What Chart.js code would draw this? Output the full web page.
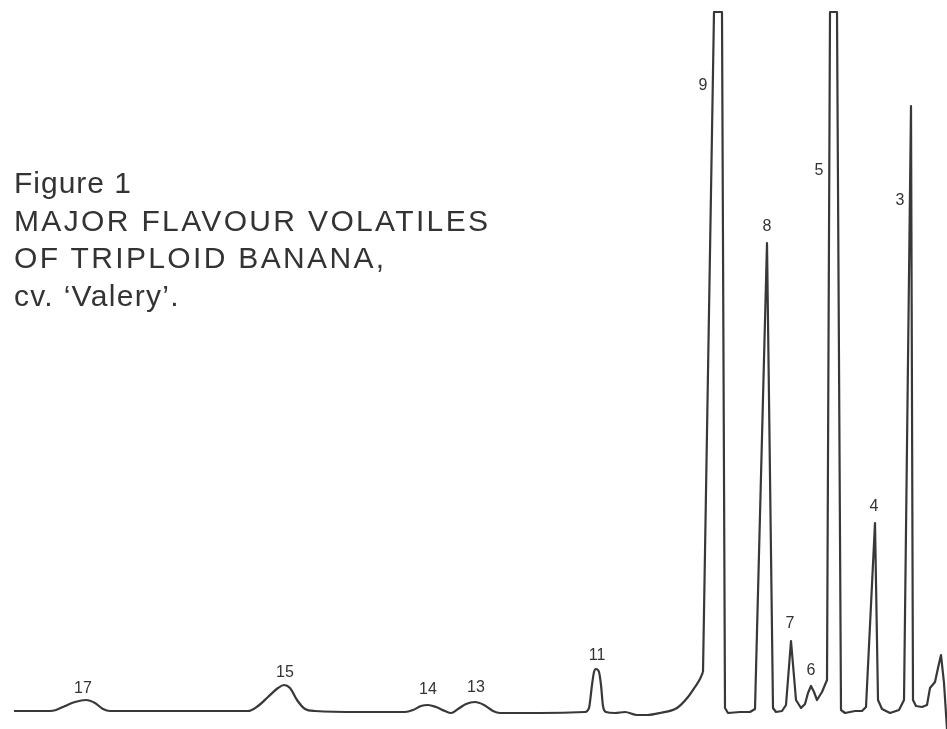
<!DOCTYPE html>
<html lang="en">

<head>
  <meta charset="UTF-8">
  <title>Banana volatiles</title>
</head>

<style>
  body {
    margin: 0;
    background-color: #ffffff;
    overflow: hidden;
  }

  .chartContainer {
    position: relative;
    width: 947px;
    height: 729px;
  }

  .caption {
    position: absolute;
    left: 14px;
    top: 164px;
    font-family: "Liberation Sans", Arial, sans-serif;
    font-size: 30px;
    line-height: 37.5px;
    letter-spacing: 2.35px;
    color: #333333;
  }

  .caption .first {
    letter-spacing: 1px;
  }

  .caption .last {
    letter-spacing: 1.3px;
  }
</style>

<body>
  <script src="https://cdn.jsdelivr.net/npm/chart.js"></script>
  <div class="chartContainer">
    <canvas id="traceChart" width="947" height="729"></canvas>
    <div class="caption"><span class="first">Figure 1</span><br>MAJOR FLAVOUR VOLATILES<br>OF TRIPLOID BANANA,<br><span class="last">cv. ‘Valery’.</span></div>
  </div>

  <script>
    // chromatogram trace
    const retention = [14, 30, 50, 56, 65, 75, 86, 95, 103, 110, 160, 210, 248, 258, 268, 278, 284, 290, 297, 305,
      315, 360, 405, 413, 421, 428, 436, 445, 451, 458, 466, 475, 484, 493, 500, 540, 585, 589, 592, 594,
      596, 599, 601, 603, 606, 615, 625, 637, 647, 660, 677, 688, 695, 700, 703, 714, 722, 725, 728, 740,
      750, 755, 767, 773, 776, 782, 786, 791, 796, 801, 805, 808, 811, 814, 817, 822, 827, 830, 837, 841,
      845, 855, 862, 866, 875, 878, 882, 890, 899, 904, 911, 913, 916, 922, 927, 930, 935, 938, 941, 944, 947];
    const response = [0, 0, 0, 1, 5, 9, 11, 8, 2, 0, 0, 0, 0, 5, 14, 23, 26, 23, 11, 2,
      0, -1, -1, 1, 5, 6, 4, 0, -2, 2, 7, 9, 6, 0, -2, -2, -1, 3, 26, 39,
      42, 39, 26, 5, -1, -2, -1, -4, -4, -2, 3, 14, 24, 32, 39, 699, 699, 3, -2, -1,
      -1, 2, 468, 3, -1, 0, 6, 70, 11, 3, 7, 18, 25, 19, 11, 19, 31, 699, 699, 1,
      -2, 0, 0, 4, 188, 11, 2, -2, 1, 11, 605, 11, 5, 4, 6, 23, 29, 43, 56, 28, -18];

    // peak numbers and where they are written
    const peakNames = ['17', '15', '14', '13', '11', '9', '8', '7', '6', '5', '4', '3'];
    const labelAt = [83, 285, 428, 476, 597, 703, 767, 790, 811, 819, 874, 900];
    const labelHeight = [22, 38, 21, 23, 55, 625, 484, 87, 40, 540, 204, 510];

    // the slow late peaks are drawn smooth, the big fast ones with the pen's straight strokes
    const splitAt = 703;
    const points = retention.map((t, i) => ({ x: t, y: response[i] }));
    const slowPart = points.filter(p => p.x <= splitAt);
    const fastPart = points.filter(p => p.x >= splitAt);

    const peakLabels = {
      id: 'peakLabels',
      afterDatasetsDraw(chart) {
        const ctx = chart.ctx;
        const x = chart.scales.x;
        const y = chart.scales.y;
        ctx.save();
        ctx.font = '16px "Liberation Sans", Arial, sans-serif';
        ctx.fillStyle = '#333333';
        ctx.textAlign = 'center';
        ctx.textBaseline = 'middle';
        peakNames.forEach((name, i) => {
          ctx.fillText(name, x.getPixelForValue(labelAt[i]), y.getPixelForValue(labelHeight[i]));
        });
        ctx.restore();
      }
    };

    function traceLine(data, smooth) {
      return {
        data: data,
        borderColor: '#383838',
        borderWidth: 2.2,
        pointRadius: 0,
        tension: 0,
        cubicInterpolationMode: smooth ? 'monotone' : 'default',
        borderJoinStyle: 'round',
        fill: false
      };
    }

    new Chart(document.getElementById('traceChart'), {
      type: 'line',
      data: {
        datasets: [traceLine(slowPart, true), traceLine(fastPart, false)]
      },
      options: {
        responsive: false,
        animation: false,
        layout: { padding: 0 },
        scales: {
          x: { type: 'linear', min: 0, max: 947, display: false },
          y: { type: 'linear', min: -18, max: 711, display: false }
        },
        plugins: {
          legend: { display: false },
          tooltip: { enabled: false }
        }
      },
      plugins: [peakLabels]
    });
  </script>
</body>

</html>
